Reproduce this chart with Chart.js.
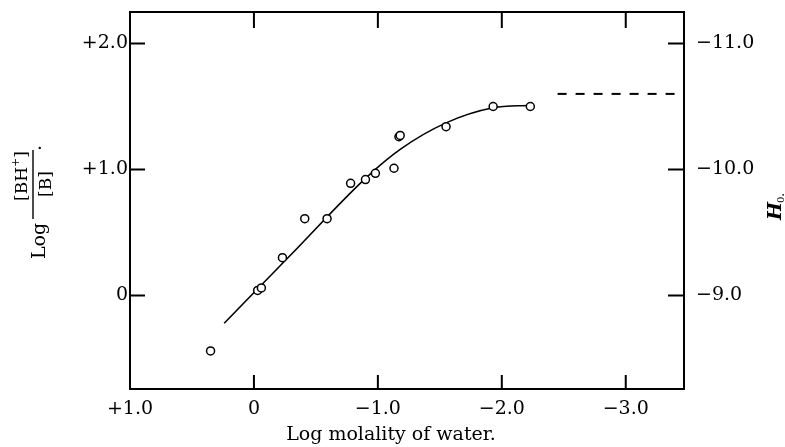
<!DOCTYPE html>
<html>
<head>
<meta charset="utf-8">
<script src="https://cdn.jsdelivr.net/npm/chart.js@4.4.1/dist/chart.umd.min.js"></script>
<style>
  html, body { margin: 0; padding: 0; background: #fff; }
  #wrap { width: 785px; height: 447px; position: relative; }
</style>
</head>
<body>
<div id="wrap"><canvas id="c" width="785" height="447"></canvas></div>
<script>
// ---- data ----
const xTickValues = [1, 0, -1, -2, -3];          // Log molality of water
const leftTickValues = [0, 1, 2];                // Log [BH+]/[B]
const rightTickValues = [-9, -10, -11];          // H0

const obsX = [0.35, -0.03, -0.06, -0.23, -0.41, -0.59, -0.78, -0.90, -0.98, -1.13, -1.17, -1.18, -1.55, -1.93, -2.23];
const obsY = [-0.44, 0.04, 0.06, 0.30, 0.61, 0.61, 0.89, 0.92, 0.97, 1.01, 1.26, 1.27, 1.34, 1.50, 1.50];

const curveX = [0.24, -0.30, -0.90, -1.18, -1.55, -1.93, -2.23];
const curveY = [-0.22, 0.325, 0.93, 1.16, 1.37, 1.49, 1.51];

const limitX = [-2.45, -3.42];
const limitY = [1.60, 1.60];

const xLabel = 'Log molality of water.';

// ---- helpers ----
const FONT = '"DejaVu Serif", "Liberation Serif", serif';
const toPts = (xs, ys) => xs.map((x, i) => ({ x: x, y: ys[i] }));
const fmtX = v => v === 0 ? '0' : (v > 0 ? '+' : '\u2212') + Math.abs(v).toFixed(1);
const fmtL = v => v === 0 ? '0' : '+' + v.toFixed(1);
const fmtR = v => '\u2212' + Math.abs(v).toFixed(1);

const framePlugin = {
  id: 'frame',
  afterDraw(chart) {
    const ctx = chart.ctx;
    const a = chart.chartArea;
    const sx = chart.scales.x, sl = chart.scales.y, sr = chart.scales.y2;
    ctx.save();
    ctx.strokeStyle = '#000';
    ctx.lineWidth = 2;
    // frame
    ctx.strokeRect(a.left, a.top, a.right - a.left, a.bottom - a.top);
    // inward ticks
    ctx.beginPath();
    xTickValues.forEach(v => {
      const px = sx.getPixelForValue(v);
      if (px <= a.left + 3 || px >= a.right - 3) return;
      ctx.moveTo(px, a.bottom); ctx.lineTo(px, a.bottom - 14);
      ctx.moveTo(px, a.top); ctx.lineTo(px, a.top + 16);
    });
    leftTickValues.forEach(v => {
      const py = sl.getPixelForValue(v);
      ctx.moveTo(a.left, py); ctx.lineTo(a.left + 15, py);
    });
    rightTickValues.forEach(v => {
      const py = sr.getPixelForValue(v);
      ctx.moveTo(a.right, py); ctx.lineTo(a.right - 16, py);
    });
    ctx.stroke();

    ctx.fillStyle = '#000';
    // x-axis title
    ctx.font = '19px ' + FONT;
    ctx.textAlign = 'center';
    ctx.textBaseline = 'alphabetic';
    ctx.fillText(xLabel, 391, 440);

    // left title: Log [BH+]/[B].
    ctx.save();
    ctx.rotate(-Math.PI / 2);
    ctx.textAlign = 'left';
    ctx.font = '19px ' + FONT;
    ctx.fillText('Log', -259, 45);
    ctx.fillRect(-219, 32.3, 69, 1.4);
    ctx.font = '17px ' + FONT;
    const wA = ctx.measureText('[BH').width;
    ctx.font = '11px ' + FONT;
    const wP = ctx.measureText('+').width;
    ctx.font = '17px ' + FONT;
    const wB = ctx.measureText(']').width;
    const numW = wA + wP + wB;
    let nx = -176 - numW / 2;
    ctx.fillText('[BH', nx, 27);
    ctx.font = '11px ' + FONT;
    ctx.fillText('+', nx + wA, 19);
    ctx.font = '17px ' + FONT;
    ctx.fillText(']', nx + wA + wP, 27);
    ctx.textAlign = 'center';
    ctx.fillText('[B]', -184, 51);
    ctx.textAlign = 'left';
    ctx.font = '19px ' + FONT;
    ctx.fillText('.', -151, 41);
    ctx.restore();

    // right title: H0.
    ctx.save();
    ctx.rotate(-Math.PI / 2);
    ctx.textAlign = 'left';
    ctx.font = 'italic bold 19px ' + FONT;
    ctx.fillText('H', -220, 781);
    const wH = ctx.measureText('H').width;
    ctx.font = '10px ' + FONT;
    ctx.fillText('0', -220 + wH - 1, 784);
    const w0 = ctx.measureText('0').width;
    ctx.font = '12px ' + FONT;
    ctx.fillText('.', -220 + wH - 1 + w0, 784);
    ctx.restore();

    ctx.restore();
  }
};

const fitV = w => s => { s.width = w; s.paddingTop = 0; s.paddingBottom = 0; };

new Chart(document.getElementById('c'), {
  type: 'scatter',
  data: {
    datasets: [
      {
        data: toPts(obsX, obsY),
        showLine: false,
        pointStyle: 'circle',
        pointRadius: 4,
        pointBorderWidth: 1.5,
        pointBorderColor: '#000',
        pointBackgroundColor: '#fff',
        xAxisID: 'x', yAxisID: 'y'
      },
      {
        data: toPts(curveX, curveY),
        showLine: true,
        borderColor: '#000',
        borderWidth: 1.6,
        pointRadius: 0,
        cubicInterpolationMode: 'monotone',
        xAxisID: 'x', yAxisID: 'y'
      },
      {
        data: toPts(limitX, limitY),
        showLine: true,
        borderColor: '#000',
        borderWidth: 2,
        borderDash: [9, 9],
        pointRadius: 0,
        xAxisID: 'x', yAxisID: 'y'
      }
    ]
  },
  options: {
    responsive: false,
    animation: false,
    events: [],
    layout: { padding: { top: 12, left: 0, right: 0, bottom: 0 } },
    plugins: { legend: { display: false }, tooltip: { enabled: false }, title: { display: false } },
    scales: {
      x: {
        type: 'linear', position: 'bottom', reverse: true,
        min: -3.47, max: 1.0,
        grid: { display: false, drawTicks: false },
        border: { display: false },
        afterBuildTicks: s => { s.ticks = xTickValues.map(v => ({ value: v })); },
        afterFit: s => { s.height = 58; s.paddingLeft = 0; s.paddingRight = 0; },
        ticks: { color: '#000', padding: 9, font: { family: FONT, size: 19 }, callback: v => fmtX(v), maxRotation: 0, autoSkip: false }
      },
      y: {
        type: 'linear', position: 'left',
        min: -0.742, max: 2.25,
        grid: { display: false, drawTicks: false },
        border: { display: false },
        afterBuildTicks: s => { s.ticks = leftTickValues.map(v => ({ value: v })); },
        afterFit: fitV(130),
        ticks: { color: '#000', padding: 2, font: { family: FONT, size: 19 }, callback: v => fmtL(v), autoSkip: false }
      },
      y2: {
        type: 'linear', position: 'right', reverse: true,
        min: -11.25, max: -8.258,
        grid: { display: false, drawTicks: false },
        border: { display: false },
        afterBuildTicks: s => { s.ticks = rightTickValues.map(v => ({ value: v })); },
        afterFit: fitV(101),
        ticks: { color: '#000', padding: 12, font: { family: FONT, size: 19 }, callback: v => fmtR(v), autoSkip: false }
      }
    }
  },
  plugins: [framePlugin]
});
</script>
</body>
</html>
